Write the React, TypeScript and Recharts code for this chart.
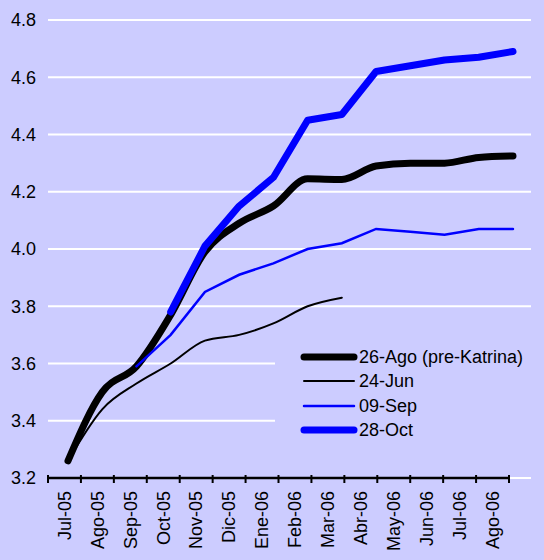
import React from "react";
import { LineChart, Line, XAxis, YAxis, CartesianGrid, Legend, ReferenceLine } from "recharts";

const months = [
  "Jul-05", "Ago-05", "Sep-05", "Oct-05", "Nov-05", "Dic-05", "Ene-06",
  "Feb-06", "Mar-06", "Abr-06", "May-06", "Jun-06", "Jul-06", "Ago-06",
];
const ago26 = [3.26, 3.5, 3.59, 3.77, 3.99, 4.09, 4.15, 4.245, 4.243, 4.29, 4.3, 4.3, 4.32, 4.325];
const jun24 = [3.26, 3.44, 3.53, 3.6, 3.68, 3.7, 3.74, 3.8, 3.83, null, null, null, null, null];
const sep09 = [null, null, 3.59, 3.7, 3.85, 3.91, 3.95, 4.0, 4.02, 4.07, 4.06, 4.05, 4.07, 4.07];
const oct28 = [null, null, null, 3.78, 4.01, 4.15, 4.25, 4.45, 4.47, 4.62, 4.64, 4.66, 4.67, 4.69];
const yTicks = [3.2, 3.4, 3.6, 3.8, 4.0, 4.2, 4.4, 4.6, 4.8];

const data = months.map((m, i) => ({
  idx: i,
  month: m,
  ago26: ago26[i],
  jun24: jun24[i],
  sep09: sep09[i],
  oct28: oct28[i],
}));

// month bands: boundaries on integers, labels on the half-steps
const bandTicks: number[] = [];
for (let i = 0; i <= months.length * 2; i++) bandTicks.push(i / 2);

const legendItems = [
  { name: "26-Ago (pre-Katrina)", color: "#000000", width: 7 },
  { name: "24-Jun", color: "#000000", width: 2 },
  { name: "09-Sep", color: "#0000FF", width: 2.5 },
  { name: "28-Oct", color: "#0000FF", width: 7 },
];

const FONT = "'Liberation Sans', Arial, sans-serif";

function MonthTick(props: any) {
  const { x, y, payload } = props;
  const v = Number(payload.value);
  if (Math.abs(v - Math.round(v)) < 0.01) {
    return <line x1={x} y1={y - 3} x2={x} y2={y + 5} stroke="#000000" strokeWidth={2} />;
  }
  return (
    <text
      transform={`translate(${x},${y + 13}) rotate(-90)`}
      textAnchor="end"
      dy="0.35em"
      fontSize={18}
      fontFamily={FONT}
      fill="#000"
    >
      {months[Math.floor(v)]}
    </text>
  );
}

function LegendBox() {
  return (
    <div style={{ paddingTop: 10, paddingLeft: 25, fontFamily: FONT, fontSize: 18, color: "#000" }}>
      {legendItems.map((it) => (
        <div key={it.name} style={{ display: "flex", alignItems: "center", height: 24.3 }}>
          <svg width={58} height={10}>
            <line x1={4} y1={5} x2={54} y2={5} stroke={it.color} strokeWidth={it.width} strokeLinecap="round" />
          </svg>
          <span style={{ marginLeft: 1, lineHeight: "20px" }}>{it.name}</span>
        </div>
      ))}
    </div>
  );
}

export default function App() {
  return (
    <div style={{ position: "absolute", left: 0, top: 0, width: 544, height: 560, background: "#CCCCFF" }}>
      <LineChart width={544} height={560} data={data} margin={{ top: 20, right: 13, left: 0, bottom: 0 }}>
        <CartesianGrid horizontal vertical={false} stroke="#FFFFFF" strokeWidth={2} xAxisId="pts" />
        <XAxis xAxisId="pts" type="number" dataKey="idx" domain={[-0.584, 13.526]} allowDataOverflow hide />
        <XAxis
          xAxisId="lab"
          type="number"
          dataKey="idx"
          domain={[0, 14.668]}
          allowDataOverflow
          ticks={bandTicks}
          height={82}
          tick={<MonthTick />}
          tickLine={false}
          tickSize={0}
          tickMargin={0}
          axisLine={false}
          interval={0}
        />
        <YAxis
          domain={[3.2, 4.8]}
          ticks={yTicks}
          width={48}
          axisLine={false}
          tickLine={false}
          tickSize={0}
          tickMargin={12}
          tickFormatter={(v: number) => v.toFixed(1)}
          tick={{ fontSize: 18, fontFamily: FONT, fill: "#000" }}
          interval={0}
        />
        <ReferenceLine
          xAxisId="lab"
          segment={[{ x: 0, y: 3.2 }, { x: 14, y: 3.2 }]}
          stroke="#000"
          strokeWidth={2.5}
          ifOverflow="visible"
        />
        <Legend
          layout="vertical"
          align="center"
          verticalAlign="middle"
          content={<LegendBox />}
          wrapperStyle={{ left: 275, top: 335, width: 256, height: 112, background: "#CCCCFF" }}
        />
        <Line xAxisId="pts" type="monotone" dataKey="jun24" name="24-Jun" stroke="#000000" strokeWidth={2} dot={false} strokeLinecap="round" isAnimationActive={false} />
        <Line xAxisId="pts" type="monotone" dataKey="ago26" name="26-Ago (pre-Katrina)" stroke="#000000" strokeWidth={7} dot={false} strokeLinecap="round" isAnimationActive={false} />
        <Line xAxisId="pts" type="linear" dataKey="sep09" name="09-Sep" stroke="#0000FF" strokeWidth={2.5} dot={false} strokeLinecap="round" isAnimationActive={false} />
        <Line xAxisId="pts" type="linear" dataKey="oct28" name="28-Oct" stroke="#0000FF" strokeWidth={7} dot={false} strokeLinecap="round" strokeLinejoin="round" isAnimationActive={false} />
      </LineChart>
    </div>
  );
}
